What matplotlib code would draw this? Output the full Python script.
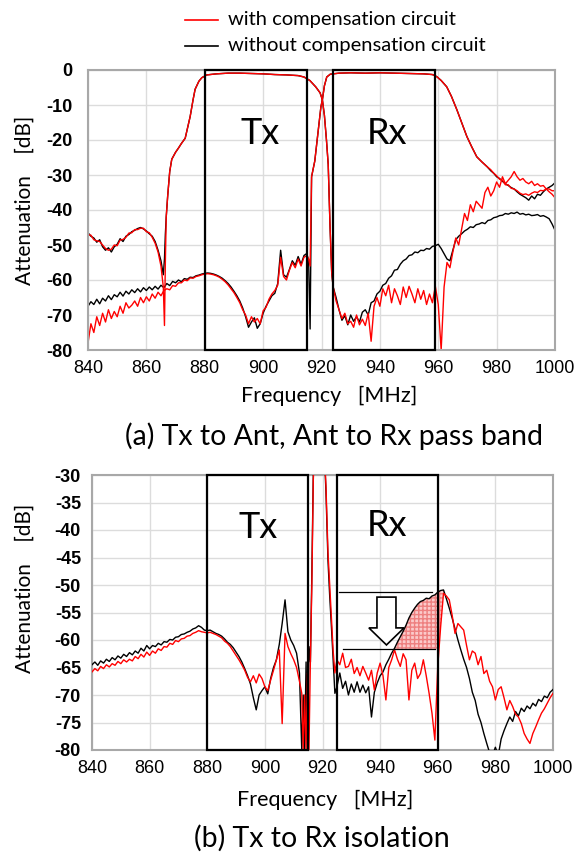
import numpy as np
import matplotlib
matplotlib.use("Agg")
import matplotlib.pyplot as plt
from matplotlib.patches import Rectangle, Polygon
from matplotlib.lines import Line2D

# ---------------- data ----------------
# (a) Tx -> Ant filter response
tx_f_left = list(range(840, 866)) + [865.8, 866.2, 866.5]
tx_black_left = [-46.5, -47.5, -48.0, -49.2, -48.5, -50.5, -51.5, -50.8, -52.0, -50.5,
                 -49.8, -48.2, -49.0, -47.5, -47.0, -46.2, -45.8, -45.3, -45.0, -45.4,
                 -46.0, -46.8, -47.5, -49.0, -51.5, -54.5, -58.5, -54.0, -47.0]
tx_red_left = [-47.0, -47.2, -48.5, -48.8, -49.0, -50.0, -51.0, -51.5, -51.2, -50.0,
               -50.2, -48.6, -48.4, -47.8, -46.6, -46.5, -45.6, -45.6, -45.2, -45.2,
               -46.2, -46.5, -47.8, -49.5, -52.0, -56.0, -62.0, -73.0, -55.0]
tx_f_mid = [866.8, 867.3, 868, 868.7, 870, 871, 872, 873.3, 874, 875,
            876, 876.7, 878, 879, 880.7, 884, 888, 892, 896, 900,
            904, 908, 912, 914, 916, 918, 919.5, 920.3, 921, 921.7,
            922.3, 922.9, 923.5, 924]
tx_mid = [-42, -36, -29, -25.5, -23.5, -22.3, -21, -19.5, -17, -13.3,
          -8.5, -5.5, -3.2, -2.2, -1.4, -1.1, -0.9, -0.9, -1.0, -1.1,
          -1.3, -1.4, -1.6, -2.0, -3.0, -4.8, -6.5, -8.5, -13, -20,
          -27, -44, -58, -62]
tx_f_right = list(range(925, 1001))
tx_black_right = [-65.0, -68.5, -71.5, -70.2, -72.8, -70.0, -71.8, -70.5, -72.0, -69.2,
                  -68.5, -70.0, -66.5, -66.0, -64.0, -63.2, -61.5, -61.0, -59.5, -58.8,
                  -57.2, -57.0, -55.5, -54.5, -54.0, -53.0, -52.8, -52.0, -52.2, -51.5,
                  -51.6, -51.0, -51.2, -50.4, -50.2, -49.8, -51.0, -52.5, -54.0, -54.5,
                  -51.5, -48.5, -47.5, -46.8, -46.0, -45.5, -44.8, -45.0, -44.2, -44.0,
                  -43.6, -43.9, -43.0, -42.8, -42.2, -42.0, -41.6, -41.5, -41.0, -41.2,
                  -40.8, -41.0, -40.6, -41.2, -41.0, -41.4, -41.2, -41.6, -41.5, -41.3,
                  -41.8, -41.6, -42.0, -42.5, -44.0, -45.8]
tx_red_right = [-66.0, -68.5, -71.0, -69.5, -72.5, -71.8, -73.5, -70.0, -72.8, -71.2,
                -73.0, -69.5, -77.5, -67.5, -65.0, -67.5, -62.5, -64.5, -61.5, -66.5,
                -62.5, -64.5, -67.0, -62.0, -65.0, -61.8, -64.0, -66.5, -62.5, -65.5,
                -63.0, -67.0, -64.0, -66.5, -61.8, -67.0, -80.0, -62.0, -55.0, -56.5,
                -52.0, -48.0, -50.0, -45.5, -41.0, -43.0, -38.5, -40.5, -37.5, -38.5,
                -39.5, -35.0, -33.5, -36.0, -34.5, -32.0, -33.5, -30.5, -32.5, -31.5,
                -30.5, -29.0, -30.5, -31.5, -31.0, -32.0, -32.5, -31.8, -33.0, -32.5,
                -33.2, -33.0, -34.0, -34.0, -34.5, -34.5]

# (a) Ant -> Rx filter response
rx_f_left = list(range(840, 916)) + [915.6, 916.1]
rx_black_left = [-67.5, -66.2, -67.0, -65.5, -66.8, -65.2, -66.0, -64.5, -65.6, -64.2,
                 -64.8, -63.5, -64.6, -63.2, -64.0, -62.8, -63.6, -62.5, -63.4, -62.2,
                 -63.0, -62.0, -62.8, -61.8, -62.6, -61.5, -62.2, -61.0, -61.6, -60.4,
                 -60.8, -60.0, -60.5, -59.6, -59.8, -59.2, -59.3, -58.8, -58.6, -58.3,
                 -58.1, -58.0, -58.1, -58.3, -58.6, -59.0, -59.5, -60.2, -61.0, -62.0,
                 -63.2, -64.5, -66.0, -68.0, -70.5, -73.5, -72.0, -70.8, -73.8, -72.5,
                 -69.5, -67.5, -66.0, -64.5, -63.8, -61.0, -51.5, -58.5, -59.2, -57.0,
                 -54.5, -55.8, -53.3, -55.5, -53.0, -52.4, -55.0, -74.0]
rx_red_left = [-78.0, -72.5, -75.0, -70.5, -73.0, -69.5, -72.0, -68.5, -71.0, -69.0,
               -70.5, -67.5, -69.5, -66.5, -68.0, -67.2, -66.0, -67.5, -65.0, -66.5,
               -64.8, -66.0, -64.0, -65.2, -63.5, -64.5, -63.0, -62.5, -62.8, -61.6,
               -61.8, -60.8, -60.8, -60.0, -60.2, -59.4, -59.5, -59.0, -58.8, -58.5,
               -58.3, -58.2, -58.3, -58.5, -58.8, -59.2, -59.8, -60.5, -61.4, -62.5,
               -63.6, -65.0, -66.5, -68.5, -70.0, -72.5, -70.5, -72.0, -71.0, -72.5,
               -68.8, -67.8, -65.5, -64.0, -63.0, -61.5, -53.5, -59.0, -60.0, -57.2,
               -55.0, -56.5, -54.0, -56.0, -53.5, -53.0, -54.0, -56.0]
rx_f_mid = [916.6, 917.7, 918.9, 919.8, 920.3, 921, 921.8, 923, 926, 930,
            935, 940, 945, 950, 955, 958, 959.5, 961, 962.9, 964.5,
            966.4, 968, 969.8, 971.5, 973.2, 975, 976.7]
rx_mid = [-30.5, -26, -17, -10.5, -8.5, -4.5, -2.0, -1.2, -0.9, -0.8,
          -0.9, -0.8, -0.9, -1.0, -1.1, -1.3, -1.9, -3.0, -4.8, -7.5,
          -11.4, -15, -19, -22, -24.8, -26.3, -27.6]
rx_f_right = list(range(978, 1001))
rx_black_right = [-28.8, -29.5, -30.5, -31.0, -31.8, -32.5, -33.0, -33.6, -34.0, -34.8,
                  -35.5, -36.0, -36.5, -37.2, -36.0, -36.8, -35.5, -35.8, -34.8, -34.0,
                  -33.5, -33.0, -32.2]
rx_red_right = [-28.5, -29.5, -30.2, -31.2, -31.5, -32.8, -32.8, -33.8, -34.0, -34.5,
                -35.2, -35.6, -35.4, -35.8, -35.2, -34.8, -35.0, -34.4, -34.5, -34.0,
                -34.8, -35.5, -36.5]

# (b) Tx -> Rx isolation
iso_f_left = list(range(840, 913))
iso_black_left = [-64.5, -64.0, -64.6, -63.8, -64.2, -63.5, -63.9, -63.2, -63.6, -62.9,
                  -63.3, -62.6, -63.0, -62.3, -62.7, -62.0, -62.4, -61.5, -62.0, -61.0,
                  -61.6, -61.0, -61.2, -60.6, -60.9, -60.3, -60.4, -59.9, -60.0, -59.5,
                  -59.4, -59.0, -58.9, -58.6, -58.4, -58.0, -57.8, -57.4, -57.7, -58.2,
                  -58.3, -58.2, -58.5, -58.8, -59.0, -59.3, -59.8, -60.4, -60.8, -61.4,
                  -62.2, -63.0, -64.0, -65.2, -66.5, -68.0, -70.5, -72.7, -70.0, -69.2,
                  -68.5, -69.8, -67.0, -65.0, -63.6, -60.8, -57.0, -52.7, -58.5, -60.0,
                  -61.0, -62.4, -66.0]
iso_red_left = [-65.8, -65.2, -65.6, -64.8, -65.2, -64.5, -64.9, -64.3, -64.6, -63.9,
                -64.3, -63.6, -64.0, -63.5, -63.8, -63.0, -63.4, -62.6, -63.1, -62.2,
                -62.8, -62.0, -62.4, -61.6, -61.9, -61.2, -61.3, -60.6, -60.8, -60.1,
                -60.3, -59.8, -59.7, -59.3, -59.2, -58.8, -58.6, -58.3, -58.5, -58.6,
                -58.7, -58.6, -58.8, -59.0, -59.3, -59.6, -60.2, -60.6, -61.2, -62.0,
                -62.8, -63.6, -64.5, -65.5, -66.8, -67.6, -66.5, -67.8, -66.2, -67.0,
                -68.5, -69.2, -67.3, -65.5, -63.6, -61.8, -75.2, -58.8, -61.2, -62.5,
                -63.6, -65.0, -67.5]
iso_f_mid = [912.8, 913.3, 913.8, 914.3, 914.8, 915.3, 915.8, 916.3, 916.8, 917.5,
             918.5, 919.5, 920.5, 921.2, 921.9, 922.5, 923.1, 923.7, 924.3]
iso_black_mid = [-80, -70, -80, -64, -80, -61.2, -64, -48, -30, -22,
                 -18, -18, -24, -33, -45.5, -52, -57.6, -63.6, -69.7]
iso_red_mid = [-69.7, -80, -70, -80, -66, -80, -63.6, -50, -31, -22,
               -18, -18, -24, -32, -44, -50, -56, -62, -66]
iso_f_right = list(range(925, 1001))
iso_black_right = [-68.5, -66.0, -68.8, -67.5, -70.0, -68.0, -69.5, -67.6, -69.5, -68.2,
                   -69.6, -68.5, -74.0, -69.5, -67.8, -66.5, -65.8, -64.5, -63.5, -62.4,
                   -61.5, -60.4, -59.4, -58.4, -57.3, -56.0, -55.0, -54.2, -53.5, -53.0,
                   -52.8, -52.4, -52.5, -52.0, -51.8, -51.3, -51.0, -50.9, -52.5, -54.2,
                   -56.0, -58.0, -60.0, -61.8, -63.5, -65.0, -67.0, -69.5, -71.0, -73.5,
                   -75.0, -77.0, -78.8, -80.5, -81.0, -79.5, -81.0, -78.0, -76.5, -75.2,
                   -74.0, -74.8, -73.0, -73.8, -72.4, -73.0, -72.0, -72.5, -71.5, -72.0,
                   -70.8, -71.2, -70.2, -70.5, -69.5, -69.0]
iso_red_right = [-63.6, -64.5, -62.4, -65.0, -64.8, -63.5, -66.1, -65.0, -66.5, -64.8,
                 -66.0, -67.3, -65.5, -69.1, -66.0, -64.2, -66.5, -70.9, -65.0, -63.6,
                 -61.8, -63.5, -64.8, -62.5, -63.6, -70.9, -65.5, -64.2, -67.0, -66.1,
                 -63.6, -66.5, -69.7, -73.3, -78.2, -64.8, -57.6, -51.5, -52.0, -52.7,
                 -55.5, -58.8, -57.0, -57.6, -58.2, -61.0, -63.6, -62.0, -62.4, -64.5,
                 -63.0, -66.1, -65.5, -67.5, -68.5, -70.9, -69.0, -68.5, -70.5, -72.7,
                 -71.0, -72.1, -73.5, -74.0, -75.2, -77.0, -78.0, -78.8, -77.0, -75.8,
                 -74.5, -73.3, -72.5, -71.5, -70.5, -69.7]

tx_band = (880, 915)
rx_band = (924, 959)
tx_band_b = (880, 915)
rx_band_b = (925, 960)
level_before = -51.3
level_after = -61.6

# ---------------- assemble ----------------
tx_f = np.array(tx_f_left + tx_f_mid + tx_f_right)
tx_black = np.array(tx_black_left + tx_mid + tx_black_right)
tx_red = np.array(tx_red_left + tx_mid + tx_red_right)
rx_f = np.array(rx_f_left + rx_f_mid + rx_f_right)
rx_black = np.array(rx_black_left + rx_mid + rx_black_right)
rx_red = np.array(rx_red_left + rx_mid + rx_red_right)
iso_f = np.array(iso_f_left + iso_f_mid + iso_f_right)
iso_black = np.array(iso_black_left + iso_black_mid + iso_black_right)
iso_red = np.array(iso_red_left + iso_red_mid + iso_red_right)

CAL = ["Lato", "DejaVu Sans"]
ARIAL = "Liberation Sans"

fig = plt.figure(figsize=(5.76, 8.6), dpi=100)
W, H = 576.0, 860.0
ax1 = fig.add_axes([88 / W, 1 - 350 / H, 467 / W, 280 / H])
ax2 = fig.add_axes([92 / W, 1 - 750 / H, 461 / W, 275 / H])


def style(ax, ylim, ystep, ypad):
    ax.set_xlim(840, 1000)
    ax.set_ylim(*ylim)
    ax.set_xticks(range(840, 1001, 20))
    ticks = np.arange(ylim[0], ylim[1] + 0.1, ystep)
    ax.set_yticks(ticks)
    ax.set_yticklabels([str(int(v)) for v in ticks])
    ax.grid(color="#dcdcdc", lw=1.0)
    ax.set_axisbelow(True)
    for s in ax.spines.values():
        s.set_color("#a8a8a8")
        s.set_linewidth(1.5)
    ax.tick_params(axis="x", length=0, pad=7, labelsize=13)
    ax.tick_params(axis="y", length=0, pad=ypad, labelsize=13)
    for lab in ax.get_xticklabels():
        lab.set_fontfamily(ARIAL)
    for lab in ax.get_yticklabels():
        lab.set_fontfamily(ARIAL)
        lab.set_fontweight("bold")


# ---------- (a) ----------
style(ax1, (-80, 0), 10, 11)
ax1.plot(tx_f, tx_black, color="black", lw=1.0)
ax1.plot(rx_f, rx_black, color="black", lw=1.0)
ax1.plot(tx_f, tx_red, color="red", lw=1.0)
ax1.plot(rx_f, rx_red, color="red", lw=1.0)
for b in (tx_band, rx_band):
    ax1.add_patch(Rectangle((b[0], -80), b[1] - b[0], 80, fill=False,
                            ec="black", lw=1.6, zorder=5, clip_on=False))
ax1.text(899, -18, "Tx", fontsize=26, family=CAL, ha="center", va="center")
ax1.text(942.4, -18, "Rx", fontsize=26, family=CAL, ha="center", va="center")

# ---------- (b) ----------
style(ax2, (-80, -30), 5, 8)

# shaded improvement region
grid = np.linspace(944.5, 962, 200)
upper = np.interp(grid, iso_f, iso_black)
lower = np.maximum(np.interp(grid, iso_f, iso_red), level_after)
ax2.fill_between(grid, lower, upper, where=upper > lower, facecolor="#fbcaca",
                 edgecolor="#ee8080", hatch="++++", lw=0, zorder=2)

ax2.plot(iso_f, iso_black, color="black", lw=1.0, zorder=3)
ax2.plot(iso_f, iso_red, color="red", lw=1.0, zorder=3)
for b in (tx_band_b, rx_band_b):
    ax2.add_patch(Rectangle((b[0], -80), b[1] - b[0], 50, fill=False,
                            ec="black", lw=1.6, zorder=5, clip_on=False))
ax2.text(897.6, -39.6, "Tx", fontsize=26, family=CAL, ha="center", va="center")
ax2.text(942.4, -39.2, "Rx", fontsize=26, family=CAL, ha="center", va="center")

ax2.plot([925.7, 958.0], [level_before, level_before], color="black", lw=0.9, zorder=4)
ax2.plot([927.1, 959.1], [level_after, level_after], color="black", lw=0.9, zorder=4)
arrow = Polygon([(938.9, -52.2), (945.5, -52.2), (945.5, -57.8), (948.3, -57.8),
                 (942.2, -60.9), (936.1, -57.8), (938.9, -57.8)],
                closed=True, fc="white", ec="black", lw=1.2, zorder=6)
ax2.add_patch(arrow)

# ---------- texts ----------
fig.text(25 / W, 1 - 200 / H, "Attenuation    [dB]", rotation=90, fontsize=15,
         family=CAL, ha="center", va="center")
fig.text(25 / W, 1 - 588 / H, "Attenuation    [dB]", rotation=90, fontsize=15,
         family=CAL, ha="center", va="center")
fig.text(329 / W, 1 - 396 / H, "Frequency   [MHz]", fontsize=15.5, family=CAL,
         ha="center", va="center")
fig.text(325 / W, 1 - 800 / H, "Frequency   [MHz]", fontsize=15.5, family=CAL,
         ha="center", va="center")
fig.text(334 / W, 1 - 436 / H, "(a) Tx to Ant, Ant to Rx pass band", fontsize=20.5,
         family=CAL, ha="center", va="center")
fig.text(322 / W, 1 - 838 / H, "(b) Tx to Rx isolation", fontsize=20.5,
         family=CAL, ha="center", va="center")

# legend
fig.add_artist(Line2D([185 / W, 218 / W], [1 - 20 / H, 1 - 20 / H], color="red", lw=1.2))
fig.add_artist(Line2D([185 / W, 218 / W], [1 - 46 / H, 1 - 46 / H], color="black", lw=1.2))
fig.text(228 / W, 1 - 20 / H, "with compensation circuit", fontsize=14.5, family=CAL,
         ha="left", va="center")
fig.text(228 / W, 1 - 46 / H, "without compensation circuit", fontsize=14.5, family=CAL,
         ha="left", va="center")

fig.savefig("out.png", dpi=100)
